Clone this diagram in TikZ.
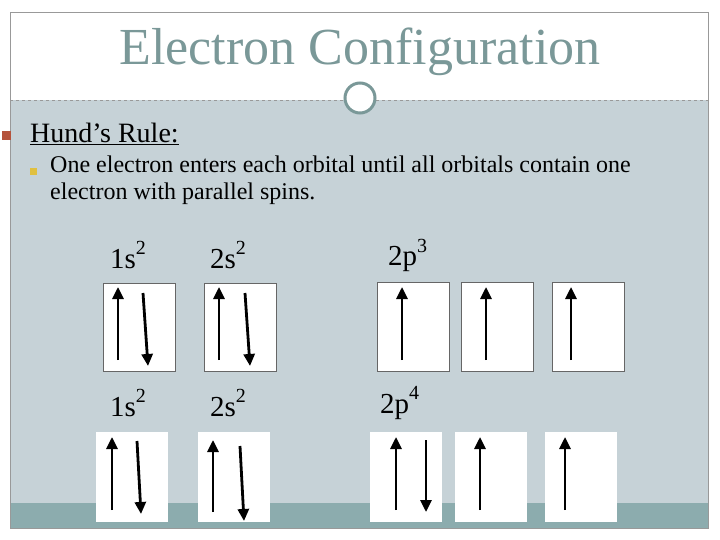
\documentclass[tikz,border=0pt]{standalone}
\usepackage{fontspec}
\setmainfont{Liberation Serif}
\usetikzlibrary{arrows.meta}
\definecolor{bgb}{HTML}{C6D2D7}
\definecolor{band}{HTML}{8CACAE}
\definecolor{ttl}{HTML}{7A9898}
\definecolor{ring}{HTML}{7A9898}
\definecolor{bul}{HTML}{B5533C}
\definecolor{bul2}{HTML}{E0C040}
\newcommand{\myexp}[1]{\raisebox{0.45em}{\fontsize{20}{20}\selectfont #1}}
\tikzset{orb/.style={draw=black!60,fill=white,line width=0.6pt},
 spin/.style={line width=2.8pt,-{Triangle[length=12pt,width=11pt]}},
 lab/.style={font=\fontsize{29}{32}\selectfont,anchor=west,inner sep=0}}
\begin{document}
\begin{tikzpicture}[x=1pt,y=-1pt]
\useasboundingbox (0,0) rectangle (720,540);
\fill[white] (0,0) rectangle (720,540);
\fill[bgb] (10,100) rectangle (708,528);
\fill[band] (10,503) rectangle (708,528);
\draw[black!40,line width=0.6pt] (10,12) rectangle (708,528);
\draw[black!40,dashed] (10,100) -- (708,100);
\node[circle,draw=ring,line width=3pt,fill=white,minimum size=30pt] (c) at (360,98) {};
\node[text=ttl,font=\fontsize{52}{58}\selectfont] (t) at (360,52) {Electron Configuration};
\fill[bul] (2,131) rectangle (11,140);
\node[anchor=west,inner sep=0,font=\fontsize{28}{32}\selectfont] (h) at (30,134) {\underline{Hund’s Rule:}};
\fill[bul2] (30,168) rectangle (37,175);
\node[anchor=north west,inner sep=0,align=left,font=\fontsize{24}{27}\selectfont] (b) at (50,156) {One electron enters each orbital until all orbitals contain one\\electron with parallel spins.};
% row 1
\node[lab] (l1) at (110,255) {1s\myexp{2}};
\node[lab] (l2) at (210,255) {2s\myexp{2}};
\node[lab] (l3) at (388,255) {2p\myexp{3}};
\node[orb,minimum width=72pt,minimum height=88pt] (o1) at (139,327) {};
\node[orb,minimum width=72pt,minimum height=88pt] (o2) at (240,327) {};
\node[orb,minimum width=72pt,minimum height=89pt] (o3) at (413,327) {};
\node[orb,minimum width=72pt,minimum height=89pt] (o4) at (497,327) {};
\node[orb,minimum width=72pt,minimum height=89pt] (o5) at (588,327) {};
\draw[spin] (118,360) -- (118,287);
\draw[spin] (143,293) -- (148,366);
\draw[spin] (219,360) -- (219,287);
\draw[spin] (245,293) -- (250,366);
\draw[spin] (402,360) -- (402,287);
\draw[spin] (486,360) -- (486,287);
\draw[spin] (571,360) -- (571,287);
% row 2
\node[lab] (m1) at (110,403) {1s\myexp{2}};
\node[lab] (m2) at (210,403) {2s\myexp{2}};
\node[lab] (m3) at (380,403) {2p\myexp{4}};
\node[orb,draw=none,minimum width=72pt,minimum height=90pt] (p1) at (132,477) {};
\node[orb,draw=none,minimum width=72pt,minimum height=90pt] (p2) at (234,477) {};
\node[orb,draw=none,minimum width=72pt,minimum height=90pt] (p3) at (406,477) {};
\node[orb,draw=none,minimum width=72pt,minimum height=90pt] (p4) at (491,477) {};
\node[orb,draw=none,minimum width=72pt,minimum height=90pt] (p5) at (581,477) {};
\draw[spin] (112,510) -- (112,437);
\draw[spin] (137,441) -- (141,514);
\draw[spin] (213,512) -- (213,440);
\draw[spin] (240,446) -- (244,521);
\draw[spin] (396,510) -- (396,437);
\draw[spin] (426,440) -- (426,512);
\draw[spin] (480,510) -- (480,437);
\draw[spin] (565,510) -- (565,437);
\end{tikzpicture}
\end{document}
